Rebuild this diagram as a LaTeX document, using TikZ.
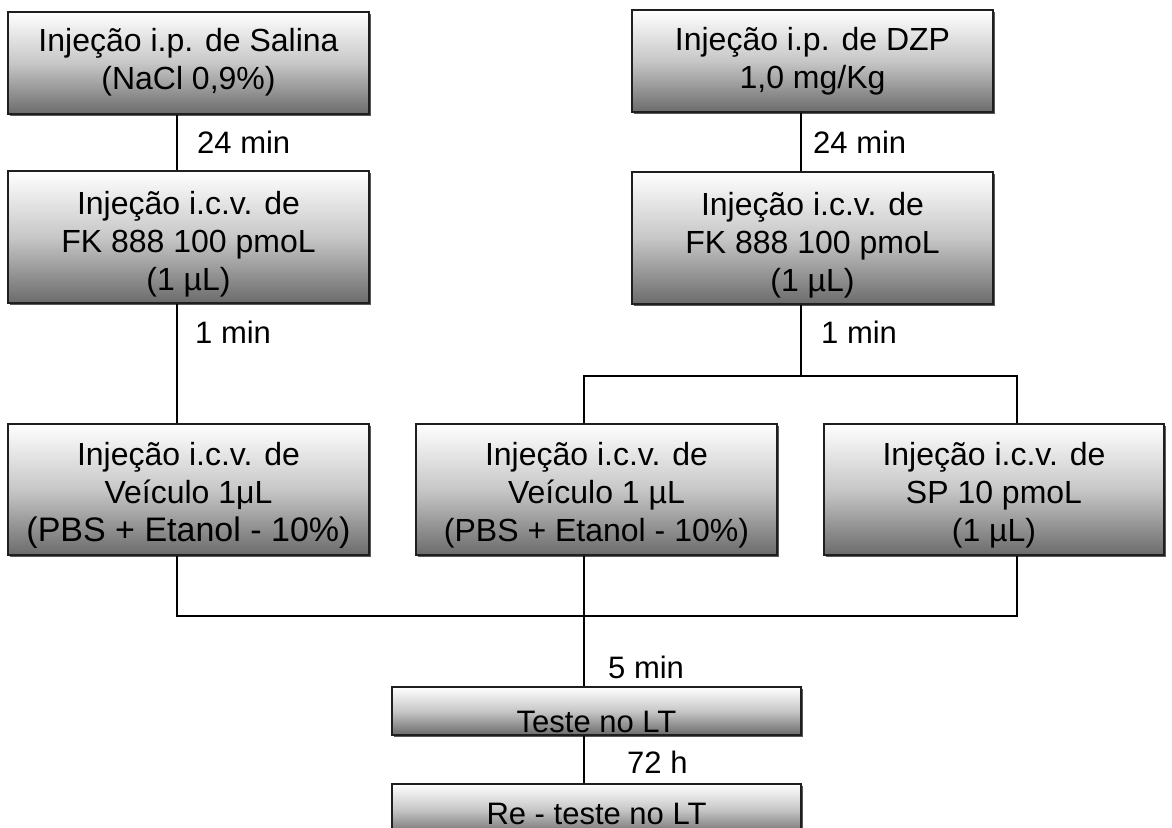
\documentclass[tikz,border=0pt]{standalone}
\usepackage{fontspec}
\setmainfont{Liberation Sans}
\usetikzlibrary{shadows}
\begin{document}
\begin{tikzpicture}[x=1pt,y=-1pt,
  box/.style={draw=black!88, line width=1.6pt, inner sep=0pt,
    top color=white, bottom color=black!58, middle color=black!22,
    drop shadow={shadow xshift=1.6pt, shadow yshift=-1.6pt, fill=black!65, opacity=1}},
  wide/.style={minimum width=361pt},
  btext/.style={inner sep=0pt, align=center, font=\fontsize{32}{38}\selectfont},
  lbl/.style={anchor=base west, inner sep=0pt, font=\fontsize{31}{36}\selectfont},
  cliptext/.style={anchor=base, inner sep=0pt, font=\fontsize{31}{36}\selectfont},
  conn/.style={line width=1.3pt, draw=black}]
\useasboundingbox (0,0) rectangle (1172,827);
\clip (0,0) rectangle (1172,827);
\fill[white] (0,0) rectangle (1172,827);

% boxes
\node[box, wide, minimum height=102pt] (b1) at (188.5,63) {};
\node[box, wide, minimum height=102pt] (b2) at (812.5,61) {};
\node[box, wide, minimum height=132pt] (b3) at (188.5,237) {};
\node[box, wide, minimum height=132pt] (b4) at (812.5,238) {};
\node[box, wide, minimum height=131pt] (b5) at (188.5,489.5) {};
\node[box, wide, minimum height=131pt] (b6) at (596.5,489.5) {};
\node[box, minimum width=340pt, minimum height=131pt] (b7) at (994,489.5) {};
\node[box, minimum width=409pt, minimum height=48pt] (b8) at (596.5,711) {};
\node[box, minimum width=409pt, minimum height=51pt] (b9) at (596.5,809.5) {};

% box texts
\node[btext] (b1t) at ([yshift=0.5pt]b1.center) {Injeção i.p. de Salina\\(NaCl 0,9\%)};
\node[btext] (b2t) at ([yshift=0pt]b2.center) {Injeção i.p. de DZP\\1,0 mg/Kg};
\node[btext] (b3t) at ([yshift=-7.5pt]b3.center) {Injeção i.c.v. de\\FK 888 100 pmoL\\(1 µL)};
\node[btext] (b4t) at ([yshift=-7.5pt]b4.center) {Injeção i.c.v. de\\FK 888 100 pmoL\\(1 µL)};
\node[btext] (b5t) at ([yshift=-5.5pt]b5.center) {Injeção i.c.v. de\\Veículo 1μL\\{\fontsize{34}{38}\selectfont(PBS + Etanol - 10\%)}};
\node[btext] (b6t) at ([yshift=-5.5pt]b6.center) {Injeção i.c.v. de\\Veículo 1 µL\\(PBS + Etanol - 10\%)};
\node[btext] (b7t) at ([yshift=-5.5pt]b7.center) {Injeção i.c.v. de\\SP 10 pmoL\\(1 µL)};

\begin{scope}
  \clip ([xshift=0.8pt,yshift=0.8pt]b8.south west) rectangle ([xshift=-0.8pt,yshift=-0.8pt]b8.north east);
  \node[cliptext] (t8) at (596.5,732) {Teste no LT};
\end{scope}
\begin{scope}
  \clip ([xshift=0.8pt,yshift=0.8pt]b9.south west) rectangle ([xshift=-0.8pt,yshift=-0.8pt]b9.north east);
  \node[cliptext] (t9) at (596.5,824) {Re - teste no LT};
\end{scope}

% labels
\node[lbl] (l1) at (197,153) {24 min};
\node[lbl] (l2) at (813,153) {24 min};
\node[lbl] (l3) at (195,343) {1 min};
\node[lbl] (l4) at (821,343) {1 min};
\node[lbl] (l5) at (608,678) {5 min};
\node[lbl] (l6) at (627,773) {72 h};

% connector columns
\coordinate (xL) at (177,0);
\coordinate (xM) at (584,0);
\coordinate (xR) at (801,0);
\coordinate (xRR) at (1017,0);
\coordinate (yA) at (0,376);
\coordinate (yB) at (0,616);

\draw[conn] (b1.south -| xL) -- (b3.north -| xL);
\draw[conn] (b3.south -| xL) -- (b5.north -| xL);
\draw[conn] (b2.south -| xR) -- (b4.north -| xR);
\draw[conn] (b4.south -| xR) -- (xR |- yA);
\draw[conn] (b6.north -| xM) |- (yA -| xRR) -- (b7.north -| xRR);
\draw[conn] (b5.south -| xL) |- (yB -| xRR) -- (b7.south -| xRR);
\draw[conn] (b6.south -| xM) -- (b8.north -| xM);
\draw[conn] (b8.south -| xM) -- (b9.north -| xM);
\end{tikzpicture}
\end{document}
